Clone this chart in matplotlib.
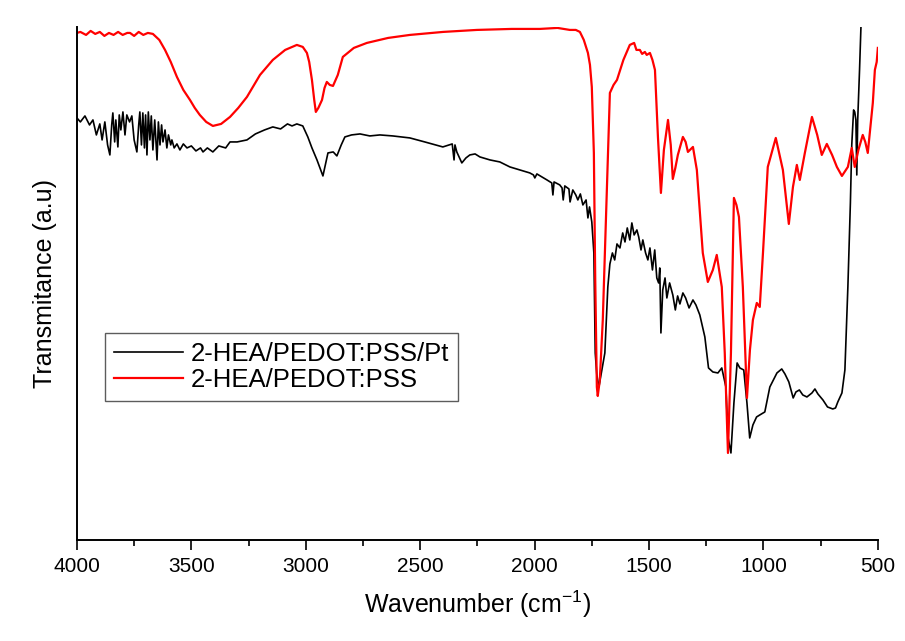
import matplotlib.pyplot as plt
from matplotlib.ticker import MultipleLocator

plt.rcParams['font.family'] = ['Liberation Sans', 'DejaVu Sans']
plt.rcParams['mathtext.fontset'] = 'custom'
plt.rcParams['mathtext.rm'] = 'Liberation Sans'

# FTIR spectra (wavenumber in cm-1, transmittance in a.u.)
wn_pt = [4000, 3985, 3965, 3945, 3930, 3915, 3900, 3890, 3878, 3866, 3856, 3848, 3843,
         3835, 3830, 3821, 3815, 3808, 3799, 3790, 3782, 3770, 3760, 3750, 3738, 3730,
         3725, 3718, 3712, 3705, 3700, 3694, 3688, 3681, 3675, 3668, 3660, 3650, 3644,
         3637, 3630, 3624, 3615, 3607, 3600, 3590, 3585, 3575, 3563, 3550, 3535, 3519,
         3500, 3480, 3460, 3449, 3430, 3406, 3380, 3350, 3331, 3300, 3257, 3220, 3180,
         3144, 3110, 3080, 3060, 3039, 3013, 2991, 2973, 2951, 2925, 2903, 2880, 2864,
         2845, 2829, 2800, 2763, 2720, 2676, 2620, 2545, 2480, 2401, 2360, 2352, 2348,
         2340, 2318, 2300, 2283, 2260, 2239, 2195, 2152, 2108, 2064, 2021, 2005, 1999,
         1990, 1946, 1925, 1920, 1915, 1890, 1880, 1875, 1868, 1850, 1845, 1833, 1820,
         1811, 1800, 1789, 1775, 1767, 1760, 1750, 1741, 1735, 1728, 1719, 1706, 1693,
         1680, 1671, 1660, 1650, 1640, 1627, 1615, 1605, 1595, 1584, 1575, 1565, 1553,
         1545, 1535, 1527, 1515, 1505, 1496, 1485, 1475, 1466, 1458, 1453, 1448, 1440,
         1430, 1422, 1410, 1396, 1385, 1375, 1365, 1352, 1340, 1325, 1308, 1295, 1278,
         1256, 1240, 1221, 1199, 1182, 1164, 1155, 1142, 1129, 1115, 1103, 1086, 1072,
         1060, 1046, 1030, 1016, 994, 972, 941, 920, 906, 889, 870, 858, 843, 828, 810,
         788, 775, 762, 740, 720, 697, 685, 675, 657, 644, 631, 620, 614, 606, 601, 596,
         592, 588, 580, 574, 565]
tr_pt = [422, 418, 424, 415, 420, 405, 416, 400, 418, 395, 385, 415, 427,
         398, 420, 393, 425, 410, 428, 405, 425, 418, 424, 400, 388, 415,
         428, 395, 427, 392, 425, 385, 428, 400, 424, 390, 420, 380, 418,
         395, 415, 398, 410, 392, 405, 395, 400, 392, 396, 390, 396, 392,
         394, 389, 392, 388, 392, 388, 394, 392, 398, 398, 400, 406, 410,
         413, 411, 416, 414, 416, 414, 403, 392, 380, 364, 387, 388, 384,
         395, 403, 405, 406, 404, 405, 404, 402, 398, 393, 396, 380, 395,
         388, 377, 382, 385, 386, 383, 380, 378, 373, 370, 367, 365, 362,
         366, 360, 357, 345, 358, 355, 352, 340, 354, 351, 338, 350, 345,
         340, 346, 335, 340, 322, 333, 318, 287, 187, 165, 153, 170, 187, 253,
         276, 287, 280, 296, 292, 307, 298, 312, 300, 317, 305, 310, 303,
         290, 300, 287, 280, 292, 270, 290, 262, 257, 272, 207, 250, 262,
         242, 257, 245, 230, 244, 236, 247, 242, 232, 240, 235, 225, 203,
         172, 168, 167, 172, 153, 103, 87, 137, 177, 172, 170, 137, 102,
         115, 123, 125, 128, 153, 167, 171, 166, 158, 142, 148, 150, 145, 143, 147,
         151, 146, 140, 133, 131, 132, 138, 147, 170, 253, 337, 395, 430, 428, 420,
         365, 420, 470, 512, 560]

wn_pss = [4000, 3985, 3960, 3940, 3920, 3900, 3880, 3860, 3840, 3820, 3800, 3780,
          3768, 3750, 3730, 3710, 3690, 3668, 3640, 3615, 3590, 3563, 3535, 3506,
          3485, 3463, 3435, 3406, 3370, 3331, 3295, 3257, 3200, 3144, 3090, 3039,
          3013, 2995, 2985, 2973, 2963, 2956, 2945, 2929, 2918, 2908, 2895, 2881,
          2860, 2838, 2790, 2733, 2640, 2545, 2400, 2252, 2100, 1977, 1900, 1846,
          1820, 1802, 1785, 1767, 1758, 1750, 1741, 1735, 1728, 1724, 1715, 1702,
          1684, 1671, 1655, 1640, 1612, 1584, 1565, 1555, 1540, 1530, 1518, 1510,
          1496, 1485, 1474, 1461, 1448, 1435, 1417, 1405, 1396, 1385, 1374, 1352,
          1340, 1330, 1308, 1291, 1265, 1243, 1221, 1204, 1182, 1169, 1155, 1142,
          1129, 1118, 1107, 1090, 1072, 1059, 1046, 1029, 1016, 1002, 981, 946,
          915, 889, 871, 854, 841, 819, 788, 765, 745, 723, 700, 679, 657, 631,
          614, 601, 585, 566, 555, 544, 522, 513, 505, 500]
tr_pss = [507, 508, 505, 509, 506, 508, 504, 507, 505, 508, 505, 507,
          507, 504, 508, 505, 507, 506, 500, 490, 478, 463, 450, 440,
          432, 425, 418, 414, 416, 423, 432, 443, 465, 480, 490, 495,
          493, 487, 478, 460, 440, 428, 432, 440, 452, 458, 455, 454,
          465, 483, 492, 497, 502, 505, 508, 510, 511, 511, 512, 510,
          510, 508, 500, 487, 475, 453, 387, 260, 153, 144, 160, 220,
          353, 447, 455, 460, 480, 495, 497, 490, 490, 486, 488, 485,
          487, 480, 470, 403, 347, 390, 420, 395, 361, 372, 385, 403,
          398, 388, 393, 370, 287, 258, 270, 285, 253, 187, 87, 187,
          342, 335, 323, 253, 142, 190, 220, 237, 233, 287, 373, 402,
          370, 316, 353, 375, 360, 387, 423, 405, 385, 396, 385, 373, 364, 373,
          392, 373, 390, 405, 398, 387, 437, 470, 478, 492]

fig = plt.figure(figsize=(9.05, 6.41), dpi=100)
ax = fig.add_axes([0.085, 0.1576, 0.885, 0.8004])

ax.plot(wn_pt, tr_pt, color='black', lw=1.2, label='2-HEA/PEDOT:PSS/Pt')
ax.plot(wn_pss, tr_pss, color='#ff0000', lw=1.6, label='2-HEA/PEDOT:PSS')

ax.set_xlim(4000, 500)
ax.set_ylim(0, 513)
ax.xaxis.set_major_locator(MultipleLocator(500))
ax.xaxis.set_minor_locator(MultipleLocator(250))
ax.set_yticks([])
ax.spines['top'].set_visible(False)
ax.spines['right'].set_visible(False)
ax.spines['left'].set_linewidth(1.4)
ax.spines['bottom'].set_linewidth(1.4)
ax.tick_params(axis='x', which='major', direction='out', length=7, width=1.2, labelsize=15, pad=5)
ax.tick_params(axis='x', which='minor', direction='out', length=4, width=1.2)

ax.set_xlabel('Wavenumber (cm$^{-1}$)', fontsize=18, labelpad=9)
ax.set_ylabel('Transmitance (a.u)', fontsize=18, labelpad=14)

leg = ax.legend(loc='upper left', bbox_to_anchor=(0.035, 0.4035), borderaxespad=0,
                prop={'size': 18.5}, frameon=True, fancybox=False, handlelength=2.7,
                handletextpad=0.3, borderpad=0.35, labelspacing=0.08)
leg.get_frame().set_edgecolor('#333333')
leg.get_frame().set_linewidth(1.0)

plt.savefig('out.png', dpi=100)
